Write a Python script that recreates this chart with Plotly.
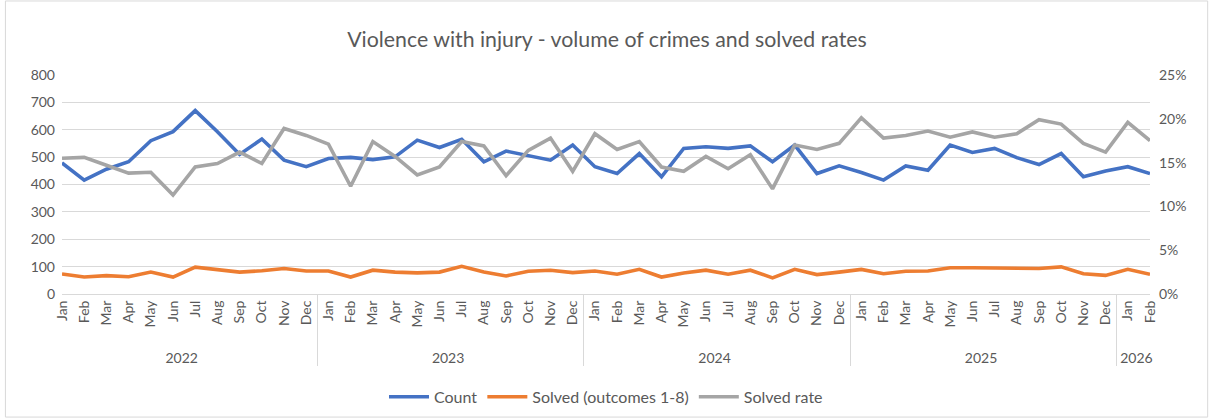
import plotly.graph_objects as go

month_names = ['Jan', 'Feb', 'Mar', 'Apr', 'May', 'Jun', 'Jul', 'Aug', 'Sep', 'Oct', 'Nov', 'Dec']
year_spans = [('2022', 12), ('2023', 12), ('2024', 12), ('2025', 12), ('2026', 2)]

years = [y for y, n in year_spans for _ in range(n)]
# leading non-breaking spaces push the year row a little further down, as in the original
months = ['\u00a0\u00a0' + m for y, n in year_spans for m in month_names[:n]]

count = [479, 416, 456, 483, 560, 593, 670, 593, 510, 566, 489, 465,
         495, 499, 491, 501, 562, 535, 565, 483, 522, 507, 489, 544,
         465, 440, 513, 428, 532, 538, 532, 541, 483, 544, 440, 468,
         444, 416, 468, 452, 544, 517, 532, 498, 473, 513, 428, 449,
         465, 440]

solved = [73, 62, 67, 63, 80, 62, 98, 90, 80, 85, 93, 84,
          84, 62, 87, 80, 77, 80, 101, 80, 66, 83, 87, 78,
          84, 72, 90, 62, 77, 87, 72, 87, 59, 90, 71, 80,
          90, 74, 83, 84, 96, 96, 96, 93, 93, 99, 74, 68,
          90, 72]

solved_rate = [15.5, 15.6, 14.7, 13.8, 13.9, 11.3, 14.5, 14.9, 16.2, 14.9, 18.9, 18.1,
               17.1, 12.3, 17.4, 15.7, 13.6, 14.5, 17.4, 16.9, 13.5, 16.4, 17.8, 14.0,
               18.3, 16.5, 17.4, 14.5, 14.0, 15.7, 14.3, 15.9, 12.0, 17.0, 16.5, 17.2,
               20.1, 17.8, 18.1, 18.6, 17.9, 18.5, 17.9, 18.3, 19.9, 19.4, 17.2, 16.2,
               19.6, 17.5]

FONT = 'Lato'
TXT = '#595959'

fig = go.Figure()
fig.add_trace(go.Scatter(x=[years, months], y=count, name='Count', mode='lines',
                         line=dict(color='#4472C4', width=3.6)))
fig.add_trace(go.Scatter(x=[years, months], y=solved, name='Solved (outcomes 1-8)', mode='lines',
                         line=dict(color='#ED7D31', width=3.6)))
fig.add_trace(go.Scatter(x=[years, months], y=[v / 100 for v in solved_rate], name='Solved rate',
                         mode='lines', yaxis='y2', line=dict(color='#A5A5A5', width=3.6)))

fig.update_layout(
    width=1214, height=420,
    margin=dict(l=62, r=64, t=75, b=126),
    paper_bgcolor='white', plot_bgcolor='white',
    font=dict(family=FONT, color=TXT, size=14),
    title=dict(text='Violence with injury - volume of crimes and solved rates',
               x=0.5, xanchor='center', y=0.905, yanchor='middle',
               font=dict(size=21.3, color=TXT, family=FONT)),
    xaxis=dict(type='multicategory', tickangle=-90, showline=True, linecolor='#D9D9D9',
               linewidth=1, showgrid=False, showdividers=True, dividercolor='#D9D9D9',
               dividerwidth=1, tickfont=dict(size=14, color=TXT), ticks='', automargin=False),
    yaxis=dict(range=[0, 800], dtick=100, showgrid=True, gridcolor='#D9D9D9', gridwidth=1,
               zeroline=False, tickfont=dict(size=14, color=TXT), ticks='', ticklabelstandoff=6,
               automargin=False),
    yaxis2=dict(range=[0, 0.25], dtick=0.05, tickformat='.0%', overlaying='y', side='right',
                showgrid=False, zeroline=False, tickfont=dict(size=14, color=TXT), ticks='',
                ticklabelstandoff=8, automargin=False),
    legend=dict(orientation='h', x=0.5, xanchor='center', xref='paper',
                y=0.055, yanchor='middle', yref='container',
                font=dict(size=16, color=TXT), itemwidth=40, tracegroupgap=0),
    showlegend=True,
)

fig.add_shape(type='rect', xref='paper', yref='paper', x0=-0.052, x1=1.053, y0=-0.562, y1=1.338,
              line=dict(color='#D9D9D9', width=1), layer='below')

fig.write_html('out.html', config={'displayModeBar': False},
               post_script="document.body.style.margin='0';")
